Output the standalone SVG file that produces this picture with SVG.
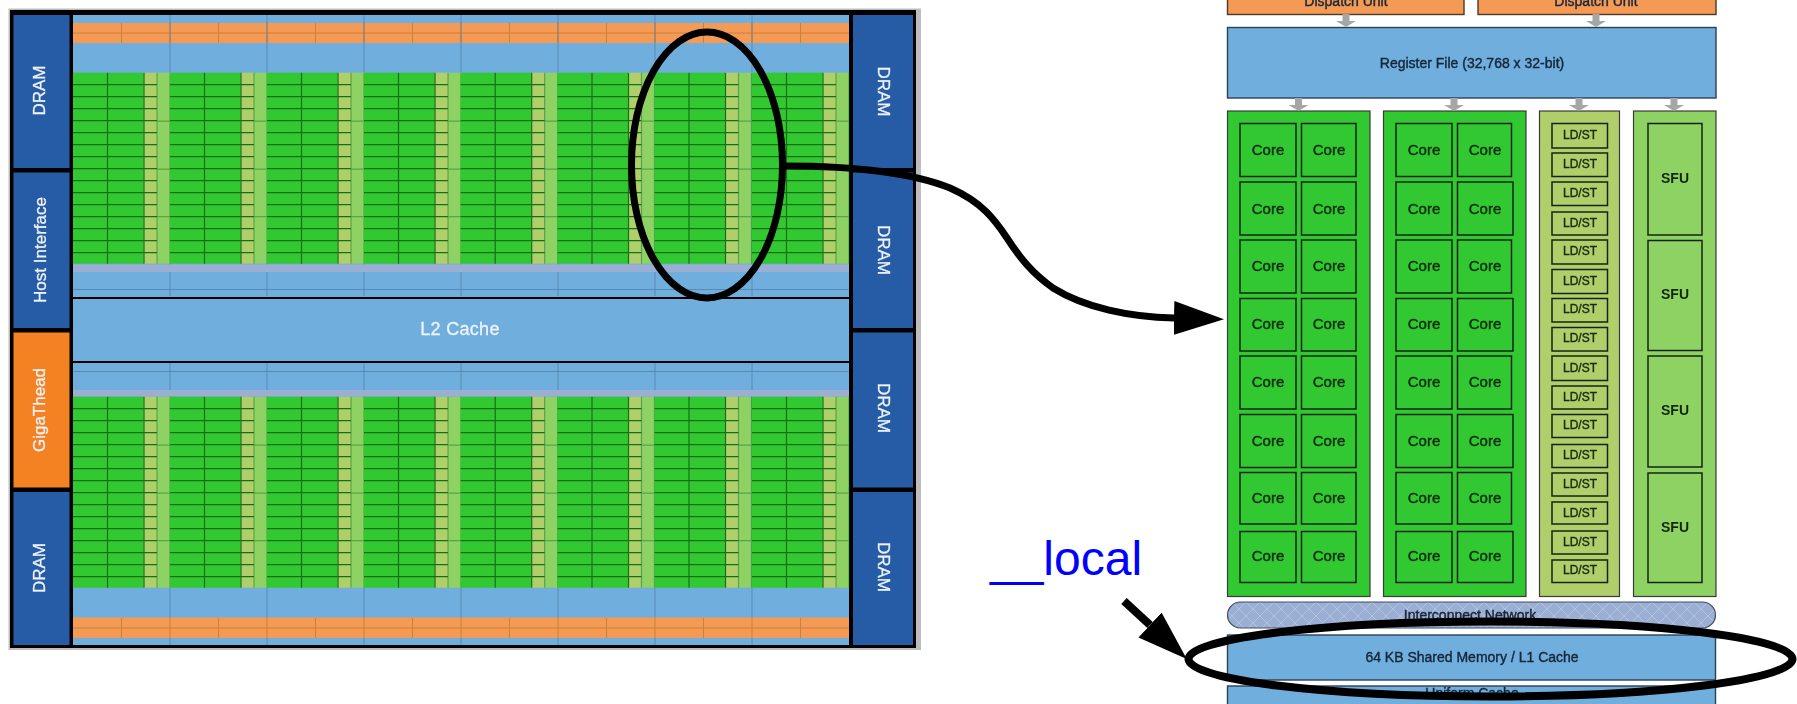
<svg xmlns="http://www.w3.org/2000/svg" xmlns:xlink="http://www.w3.org/1999/xlink" width="1797" height="704" viewBox="0 0 1797 704">
<style>
text{font-family:"Liberation Sans",Arial,sans-serif;text-anchor:middle;dominant-baseline:central}
.w{fill:#eef3fa;font-size:17px;stroke:#eef3fa;stroke-width:.3px}
.d{fill:#16263a;font-size:14px;stroke:#16263a;stroke-width:.4px}
.c{fill:#0e2a0e;font-size:15px;stroke:#0e2a0e;stroke-width:.4px}
.l{fill:#1a2a10;font-size:12px;stroke:#1a2a10;stroke-width:.4px}
.s{fill:#14280e;font-size:14px;font-weight:bold}
.db{fill:#265ca6}
.bl{fill:#70afdd}
.or{fill:#f59a55}
.lv{fill:#9aafd3}
.gl{stroke:#167018;stroke-width:1.2;fill:none}
.vl{stroke:#4f7fa6;stroke-width:1;fill:none;opacity:.75}
.ol{stroke:#c9803f;stroke-width:1;fill:none}
.col{stroke:#3a3a3a;stroke-width:1.2}
.box{stroke:#142414;stroke-width:1.5}
.rb{fill:#70afdd;stroke:#2b3f55;stroke-width:1.4}
.ga{stroke:#a6a6a6;stroke-width:7;fill:none;marker-end:url(#gh)}
.bk{stroke:#000;stroke-width:7;fill:none}
.cr{fill:#31c831}
.ld{fill:#aecf6a}
.sf{fill:#8dd264}
</style>
<defs>
<filter id="b1" x="-2%" y="-2%" width="104%" height="104%"><feGaussianBlur stdDeviation="0.7"/></filter>
<filter id="b2" x="-2%" y="-2%" width="104%" height="104%"><feGaussianBlur stdDeviation="0.4"/></filter>
<pattern id="hatch" width="14" height="14" patternUnits="userSpaceOnUse"><rect width="14" height="14" fill="#9aafd3"/><path d="M0 0L14 14M14 0L0 14" stroke="#b4c4df" stroke-width="1"/></pattern>
<marker id="ah" markerUnits="userSpaceOnUse" viewBox="0 0 50 34" markerWidth="50" markerHeight="34" refX="0" refY="17" orient="auto"><path d="M0 0L50 17L0 34z" fill="#000"/></marker>
<marker id="gh" markerUnits="userSpaceOnUse" viewBox="0 0 6 20" markerWidth="6" markerHeight="20" refX="0" refY="10" orient="auto"><path d="M0 0L6 10L0 20z" fill="#a6a6a6"/></marker>
<g id="sc">
<rect class="cr" width="71" height="191"/>
<rect class="ld" x="70.5" width="13.5" height="191"/>
<rect class="sf" x="84" width="13" height="191"/>
<path class="gl" d="M0 12H84M0 24H84M0 36H84M0 48H84M0 60H84M0 72H84M0 84H84M0 96H84M0 108H84M0 120H84M0 132H84M0 144H84M0 156H84M0 168H84M0 180H84M34.5 0V191M71 0V191"/>
<path class="gl" d="M84 0V191M97 0V191M84 48.5H97M84 96.5H97M84 144H97" opacity=".45"/>
</g>
<path id="vs" class="vl" d="M170 0V57M267 0V57M364 0V57M461 0V57M558 0V57M655 0V57M752 0V57"/>
<path id="os" class="ol" d="M121.500 0V20M170 0V20M218.500 0V20M267 0V20M315.500 0V20M364 0V20M412.500 0V20M461 0V20M509.500 0V20M558 0V20M606.500 0V20M655 0V20M703.500 0V20M752 0V20M800.500 0V20M73 10H849"/>
</defs>

<g id="die" filter="url(#b1)">
<rect x="8.500" y="8.500" width="912.500" height="641.500" fill="#bdbdbd"/>
<rect x="10" y="10" width="906" height="638" fill="#000"/>
<g id="dram-l1"><rect class="db" x="13.500" y="15" width="56" height="153"/><text class="w" transform="translate(39.500 90.500) rotate(-90)">DRAM</text></g>
<g id="host"><rect class="db" x="13.500" y="172.500" width="56" height="155.500"/><text class="w" transform="translate(40 250) rotate(-90)">Host Interface</text></g>
<g id="giga"><rect x="13.500" y="332.500" width="56" height="155" fill="#f58220"/><text class="w" transform="translate(39.500 410) rotate(-90)">GigaThead</text></g>
<g id="dram-l2"><rect class="db" x="13.500" y="492" width="56" height="153"/><text class="w" transform="translate(39.500 568) rotate(-90)">DRAM</text></g>
<g id="dram-r1"><rect class="db" x="853" y="15" width="60" height="153"/><text class="w" transform="translate(883.500 91.500) rotate(90)">DRAM</text></g>
<g id="dram-r2"><rect class="db" x="853" y="172.500" width="60" height="155.500"/><text class="w" transform="translate(883.500 250) rotate(90)">DRAM</text></g>
<g id="dram-r3"><rect class="db" x="853" y="332.500" width="60" height="155"/><text class="w" transform="translate(883.500 408) rotate(90)">DRAM</text></g>
<g id="dram-r4"><rect class="db" x="853" y="492" width="60" height="153"/><text class="w" transform="translate(883.500 567) rotate(90)">DRAM</text></g>
<g id="fabric-top">
<rect class="bl" x="73" y="15" width="776" height="282"/>
<rect class="or" x="73" y="23" width="776" height="20"/>
<use xlink:href="#os" href="#os" y="23"/>
<use xlink:href="#vs" href="#vs" y="15"/>
<use xlink:href="#vs" href="#vs" y="239"/>
<use href="#sc" x="73" y="72.700"/><use href="#sc" x="170" y="72.700"/><use href="#sc" x="267" y="72.700"/><use href="#sc" x="364" y="72.700"/><use href="#sc" x="460.700" y="72.700"/><use href="#sc" x="557.500" y="72.700"/><use href="#sc" x="654.500" y="72.700"/><use href="#sc" x="752" y="72.700"/>
<rect class="lv" x="73" y="264.500" width="776" height="7.500"/>
<path class="vl" d="M73 289.500H849"/>
</g>
<g id="l2">
<rect class="bl" x="73" y="299" width="776" height="62"/>
<text class="w" x="460" y="329" style="font-size:18px;letter-spacing:.3px">L2 Cache</text>
</g>
<g id="fabric-bottom">
<rect class="bl" x="73" y="363" width="776" height="282"/>
<use xlink:href="#vs" href="#vs" y="363"/>
<rect class="lv" x="73" y="390" width="776" height="6.500"/>
<path class="vl" d="M73 371.500H849"/>
<use href="#sc" x="73" y="396.700"/><use href="#sc" x="170" y="396.700"/><use href="#sc" x="267" y="396.700"/><use href="#sc" x="364" y="396.700"/><use href="#sc" x="460.700" y="396.700"/><use href="#sc" x="557.500" y="396.700"/><use href="#sc" x="654.500" y="396.700"/><use href="#sc" x="752" y="396.700"/>
<use xlink:href="#vs" href="#vs" y="588"/>
<rect class="or" x="73" y="617.500" width="776" height="20.500"/>
<use xlink:href="#os" href="#os" y="618"/>
</g>
</g>

<g id="cu" filter="url(#b2)">
<g id="dispatch-1"><rect x="1227.500" y="-10" width="236.500" height="24.500" fill="#f59a55" stroke="#4a3a2a" stroke-width="1.400"/><text class="d" x="1346" y="1">Dispatch Unit</text></g>
<g id="dispatch-2"><rect x="1478" y="-10" width="238" height="24.500" fill="#f59a55" stroke="#4a3a2a" stroke-width="1.400"/><text class="d" x="1596" y="1">Dispatch Unit</text></g>
<g id="register"><rect class="rb" x="1227.500" y="27.500" width="488.500" height="70.500"/><text class="d" x="1472" y="62.500">Register File (32,768 x 32-bit)</text></g>

<g id="cores-1">
<rect class="cr col" x="1227.500" y="111" width="142.500" height="485.500"/>
<rect class="cr box" x="1240" y="123.500" width="56" height="53"/><text class="c" x="1268" y="149.500">Core</text><rect class="cr box" x="1301.500" y="123.500" width="54.500" height="53"/><text class="c" x="1329" y="149.500">Core</text>
<rect class="cr box" x="1240" y="182" width="56" height="53"/><text class="c" x="1268" y="208">Core</text><rect class="cr box" x="1301.500" y="182" width="54.500" height="53"/><text class="c" x="1329" y="208">Core</text>
<rect class="cr box" x="1240" y="240" width="56" height="53"/><text class="c" x="1268" y="265">Core</text><rect class="cr box" x="1301.500" y="240" width="54.500" height="53"/><text class="c" x="1329" y="265">Core</text>
<rect class="cr box" x="1240" y="298.500" width="56" height="52.500"/><text class="c" x="1268" y="323">Core</text><rect class="cr box" x="1301.500" y="298.500" width="54.500" height="52.500"/><text class="c" x="1329" y="323">Core</text>
<rect class="cr box" x="1240" y="356" width="56" height="53"/><text class="c" x="1268" y="381">Core</text><rect class="cr box" x="1301.500" y="356" width="54.500" height="53"/><text class="c" x="1329" y="381">Core</text>
<rect class="cr box" x="1240" y="414.500" width="56" height="53"/><text class="c" x="1268" y="440">Core</text><rect class="cr box" x="1301.500" y="414.500" width="54.500" height="53"/><text class="c" x="1329" y="440">Core</text>
<rect class="cr box" x="1240" y="472.500" width="56" height="51.500"/><text class="c" x="1268" y="497">Core</text><rect class="cr box" x="1301.500" y="472.500" width="54.500" height="51.500"/><text class="c" x="1329" y="497">Core</text>
<rect class="cr box" x="1240" y="531.500" width="56" height="51"/><text class="c" x="1268" y="555">Core</text><rect class="cr box" x="1301.500" y="531.500" width="54.500" height="51"/><text class="c" x="1329" y="555">Core</text>
</g>
<g id="cores-2">
<rect class="cr col" x="1383.500" y="111" width="142.500" height="485.500"/>
<rect class="cr box" x="1396" y="123.500" width="56" height="53"/><text class="c" x="1424" y="149.500">Core</text><rect class="cr box" x="1457.500" y="123.500" width="54" height="53"/><text class="c" x="1485" y="149.500">Core</text>
<rect class="cr box" x="1396" y="182" width="56" height="53"/><text class="c" x="1424" y="208">Core</text><rect class="cr box" x="1457.500" y="182" width="55.500" height="53"/><text class="c" x="1485" y="208">Core</text>
<rect class="cr box" x="1396" y="240" width="56" height="53"/><text class="c" x="1424" y="265">Core</text><rect class="cr box" x="1457.500" y="240" width="54" height="53"/><text class="c" x="1485" y="265">Core</text>
<rect class="cr box" x="1396" y="298.500" width="56" height="52.500"/><text class="c" x="1424" y="323">Core</text><rect class="cr box" x="1457.500" y="298.500" width="55.500" height="52.500"/><text class="c" x="1485" y="323">Core</text>
<rect class="cr box" x="1396" y="356" width="56" height="53"/><text class="c" x="1424" y="381">Core</text><rect class="cr box" x="1457.500" y="356" width="54" height="53"/><text class="c" x="1485" y="381">Core</text>
<rect class="cr box" x="1396" y="414.500" width="56" height="53"/><text class="c" x="1424" y="440">Core</text><rect class="cr box" x="1457.500" y="414.500" width="55.500" height="53"/><text class="c" x="1485" y="440">Core</text>
<rect class="cr box" x="1396" y="472.500" width="56" height="51.500"/><text class="c" x="1424" y="497">Core</text><rect class="cr box" x="1457.500" y="472.500" width="54" height="51.500"/><text class="c" x="1485" y="497">Core</text>
<rect class="cr box" x="1396" y="531.500" width="56" height="51"/><text class="c" x="1424" y="555">Core</text><rect class="cr box" x="1457.500" y="531.500" width="55.500" height="51"/><text class="c" x="1485" y="555">Core</text>
</g>
<g id="ldst">
<rect class="ld col" x="1539.500" y="111" width="80" height="485.500"/>
<rect class="ld box" x="1552" y="123.500" width="55.500" height="24.500"/><text class="l" x="1580" y="135">LD/ST</text>
<rect class="ld box" x="1552" y="153" width="55.500" height="23.500"/><text class="l" x="1580" y="164">LD/ST</text>
<rect class="ld box" x="1552" y="182" width="55.500" height="23.500"/><text class="l" x="1580" y="192.500">LD/ST</text>
<rect class="ld box" x="1552" y="212" width="55.500" height="23"/><text class="l" x="1580" y="222.500">LD/ST</text>
<rect class="ld box" x="1552" y="240" width="55.500" height="24"/><text class="l" x="1580" y="251">LD/ST</text>
<rect class="ld box" x="1552" y="269.500" width="55.500" height="24"/><text class="l" x="1580" y="280.500">LD/ST</text>
<rect class="ld box" x="1552" y="298.500" width="55.500" height="23.500"/><text class="l" x="1580" y="309">LD/ST</text>
<rect class="ld box" x="1552" y="327.500" width="55.500" height="23.500"/><text class="l" x="1580" y="338">LD/ST</text>
<rect class="ld box" x="1552" y="356" width="55.500" height="24.500"/><text class="l" x="1580" y="367.500">LD/ST</text>
<rect class="ld box" x="1552" y="386" width="55.500" height="23"/><text class="l" x="1580" y="396.500">LD/ST</text>
<rect class="ld box" x="1552" y="414.500" width="55.500" height="23"/><text class="l" x="1580" y="425">LD/ST</text>
<rect class="ld box" x="1552" y="444.500" width="55.500" height="23"/><text class="l" x="1580" y="455">LD/ST</text>
<rect class="ld box" x="1552" y="473" width="55.500" height="23"/><text class="l" x="1580" y="483.500">LD/ST</text>
<rect class="ld box" x="1552" y="502" width="55.500" height="22"/><text class="l" x="1580" y="512.500">LD/ST</text>
<rect class="ld box" x="1552" y="531" width="55.500" height="23"/><text class="l" x="1580" y="541.500">LD/ST</text>
<rect class="ld box" x="1552" y="560" width="55.500" height="22.500"/><text class="l" x="1580" y="570">LD/ST</text>
</g>
<g id="sfu">
<rect class="sf col" x="1633.500" y="111" width="82.500" height="485.500"/>
<rect class="sf box" x="1648" y="123.500" width="54" height="111.500"/><text class="s" x="1675" y="178">SFU</text>
<rect class="sf box" x="1648" y="240.500" width="54" height="110"/><text class="s" x="1675" y="294">SFU</text>
<rect class="sf box" x="1648" y="356" width="54" height="111"/><text class="s" x="1675" y="410">SFU</text>
<rect class="sf box" x="1648" y="473" width="54" height="109.500"/><text class="s" x="1675" y="527">SFU</text>
</g>
<g id="interconnect"><rect x="1227.500" y="602" width="488" height="26" rx="13" fill="url(#hatch)" stroke="#3f4f63" stroke-width="1.200"/><text class="d" x="1470" y="615">Interconnect Network</text></g>
<g id="shared"><rect class="rb" x="1227.500" y="635" width="488" height="45"/><text class="d" x="1472" y="656.500">64 KB Shared Memory / L1 Cache</text></g>
<g id="uniform"><rect class="rb" x="1227.500" y="686" width="488" height="24"/><text class="d" x="1472" y="693">Uniform Cache</text></g>
</g>

<g id="connectors">
<path class="ga" d="M1346 14V21"/><path class="ga" d="M1596 14V21"/>
<path class="ga" d="M1298.500 98V105"/><path class="ga" d="M1454 98V105"/><path class="ga" d="M1579 98V105"/><path class="ga" d="M1674 98V105"/>
<path class="bk" style="marker-end:url(#ah)" d="M785 166C835 166 905 170 950 188C982 202 995 220 1007 238C1020 258 1032 273 1053 288C1085 308 1130 317 1174 318"/>
<path class="bk" style="marker-end:url(#ah);stroke-width:8" d="M1124 601L1150 625"/>
</g>
<g id="note-core"><ellipse class="bk" cx="707" cy="165" rx="75.500" ry="133"/></g>
<g id="note-local"><ellipse class="bk" cx="1490.500" cy="659" rx="302" ry="37.500" style="stroke-width:8"/></g>
<g id="label-local"><text x="1066" y="575" style="font-size:48px;fill:#0000ff;dominant-baseline:alphabetic">__local</text></g>
</svg>
